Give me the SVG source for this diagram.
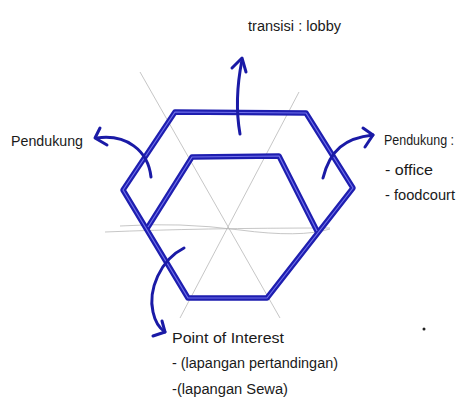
<svg xmlns="http://www.w3.org/2000/svg" width="462" height="418" viewBox="0 0 462 418">
<defs>
<style>
.guide{fill:none;stroke:#b8b8b8;stroke-width:0.8}
.pen{fill:none;stroke:#1e1eb0;stroke-width:5.5;stroke-linejoin:round;stroke-linecap:round}
.gap{fill:none;stroke:#7070ea;stroke-width:1.2;stroke-linejoin:round}
.arr{fill:none;stroke:#1a1aa6;stroke-width:3;stroke-linecap:round;stroke-linejoin:round}
.t{font-family:"Liberation Sans",Arial,sans-serif;font-size:14px;fill:#1a1a1a}
</style>
</defs>
<rect width="462" height="418" fill="#ffffff"/>
<g id="guides">
<path class="guide" d="M140,72 L280,318"/>
<path class="guide" d="M299,92 L180,318"/>
<path class="guide" d="M105,232 Q200,228 330,228"/>
<path class="guide" d="M120,226 Q180,222 240,230 T330,229"/>
</g>
<g id="hexagon">
<path class="pen" d="M175,112 L306,113 L353,188 L267,298 L188,298 L123,190 Z"/>
<path class="pen" d="M148,227 L192,157 L279,156 L317,231"/>
<path class="gap" d="M175,112 L306,113 L353,188 L267,298 L188,298 L123,190 Z"/>
<path class="gap" d="M148,227 L192,157 L279,156 L317,231"/>
</g>
<g id="connectors">
<path class="arr" d="M240,134 Q234,100 242,60"/>
<path class="arr" d="M232,68 L242,58 L246,72"/>
<path class="arr" d="M151,177 C148,150 126,134 97,138"/>
<path class="arr" d="M100,128 L95,138 L107,145"/>
<path class="arr" d="M323,178 C330,150 345,138 373,135"/>
<path class="arr" d="M363,128 L373,135 L365,147"/>
<path class="arr" d="M184,248 C160,260 148,290 153,312 Q156,326 165,332"/>
<path class="arr" d="M162,321 L165,332 L153,336"/>
</g>
<g id="top-label">
<text class="t" x="248" y="31" textLength="93" lengthAdjust="spacingAndGlyphs">transisi : lobby</text>
</g>
<g id="left-label">
<text class="t" x="11" y="146" textLength="72" lengthAdjust="spacingAndGlyphs">Pendukung</text>
</g>
<g id="right-label">
<text class="t" x="384" y="145" textLength="70" lengthAdjust="spacingAndGlyphs">Pendukung :</text>
<text class="t" x="385" y="175" textLength="48" lengthAdjust="spacingAndGlyphs">- office</text>
<text class="t" x="385" y="200" textLength="70" lengthAdjust="spacingAndGlyphs">- foodcourt</text>
</g>
<g id="bottom-label">
<text class="t" x="172" y="343" textLength="112" lengthAdjust="spacingAndGlyphs">Point of Interest</text>
<text class="t" x="172" y="368" textLength="166" lengthAdjust="spacingAndGlyphs">- (lapangan pertandingan)</text>
<text class="t" x="172" y="394" textLength="116" lengthAdjust="spacingAndGlyphs">-(lapangan Sewa)</text>
</g>
<circle cx="424" cy="329" r="1.5" fill="#222"/>
</svg>
